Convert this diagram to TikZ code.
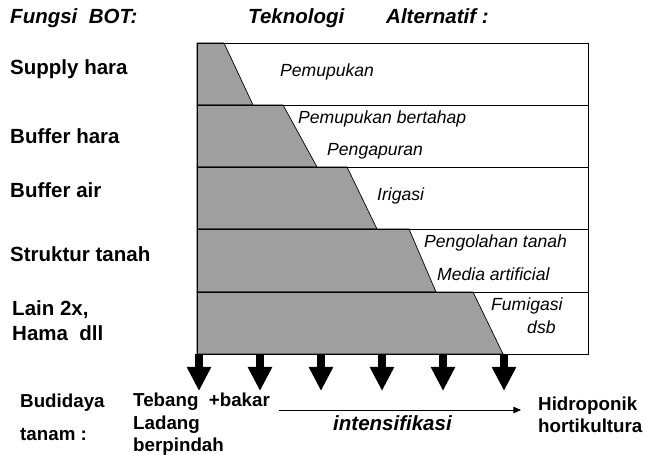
\documentclass[tikz,border=0pt]{standalone}
\usepackage{fontspec}
\setmainfont{Liberation Sans}
\usetikzlibrary{arrows.meta}

\begin{document}
\begin{tikzpicture}[x=0.03cm, y=-0.03cm,
  fungsi/.style={anchor=base west, inner sep=0pt, font=\fontsize{17.5}{20}\selectfont\bfseries},
  budidaya/.style={anchor=base west, inner sep=0pt, font=\fontsize{16}{19}\selectfont\bfseries},
  teknik/.style={anchor=base west, inner sep=0pt, font=\fontsize{15}{18}\selectfont\itshape},
  judul/.style={anchor=base west, inner sep=0pt, font=\fontsize{17.5}{20}\selectfont\bfseries\itshape},
  lapisan/.style={draw=black, line width=0.8pt},
  bot/.style={fill=gray!75, draw=black, line width=0.6pt},
  turun/.style={line width=6pt, -{Triangle[width=19.5pt, length=20.5pt]}},
  maju/.style={line width=0.7pt, -{Triangle[width=5.5pt, length=6.5pt]}}]
  \useasboundingbox (0,0) rectangle (646,455);
  \node[judul] (fungsi) at (10,24) {Fungsi\ \ BOT:};
  \node[judul] (teknologi) at (248,24) {Teknologi};
  \node[judul] (alternatif) at (386,24) {Alternatif\ :};
  \foreach \ya/\yb/\xa/\xb in {43/105/224/253, 105/167/283/317, 167/229/347/377, 229/292/409/436, 292/354/473/503}
  {
    \fill[bot] (197,\ya) -- (\xa,\ya) -- (\xb,\yb) -- (197,\yb) -- cycle;
    \draw[lapisan] (197,\ya) rectangle (588,\yb);
  }
  \node[fungsi] (supply) at (10,75) {Supply hara};
  \node[fungsi] (bufhara) at (10,144) {Buffer hara};
  \node[fungsi] (bufair) at (10,198) {Buffer air};
  \node[fungsi] (struktur) at (10,262) {Struktur tanah};
  \node[fungsi] (lain) at (12,315) {Lain 2x,};
  \node[fungsi] (hama) at (12,340) {Hama\ \ dll};
  \node[teknik] (pupuk) at (280,77) {Pemupukan};
  \node[teknik] (bertahap) at (298,124) {Pemupukan bertahap};
  \node[teknik] (kapur) at (327,156) {Pengapuran};
  \node[teknik] (irigasi) at (377,201) {Irigasi};
  \node[teknik] (olah) at (424,248) {Pengolahan tanah};
  \node[teknik] (media) at (437,280) {Media artificial};
  \node[teknik] (fumigasi) at (491,310) {Fumigasi};
  \node[teknik] (dsb) at (527,333) {dsb};
  \foreach \i/\x in {1/199, 2/260, 3/321, 4/382, 5/443, 6/504}
  {
    \coordinate (s\i) at (\x,354);
    \coordinate (e\i) at (\x,391);
    \draw[turun] (s\i) -- (e\i);
  }
  \node[budidaya] (budi) at (20,407) {Budidaya};
  \node[budidaya] (tanam) at (20,440) {tanam\ :};
  \node[budidaya] (tebang) at (133,406) {Tebang\ \ +bakar};
  \node[budidaya] (ladang) at (133,429) {Ladang};
  \node[budidaya] (pindah) at (133,451) {berpindah};
  \coordinate (i0) at (279,410);
  \coordinate (i1) at (521,410);
  \draw[maju] (i0) -- (i1);
  \node[judul] (intens) at (333,430) {intensifikasi};
  \node[budidaya] (hidro) at (538,410) {Hidroponik};
  \node[budidaya] (horti) at (538,432) {hortikultura};
\end{tikzpicture}
\end{document}
